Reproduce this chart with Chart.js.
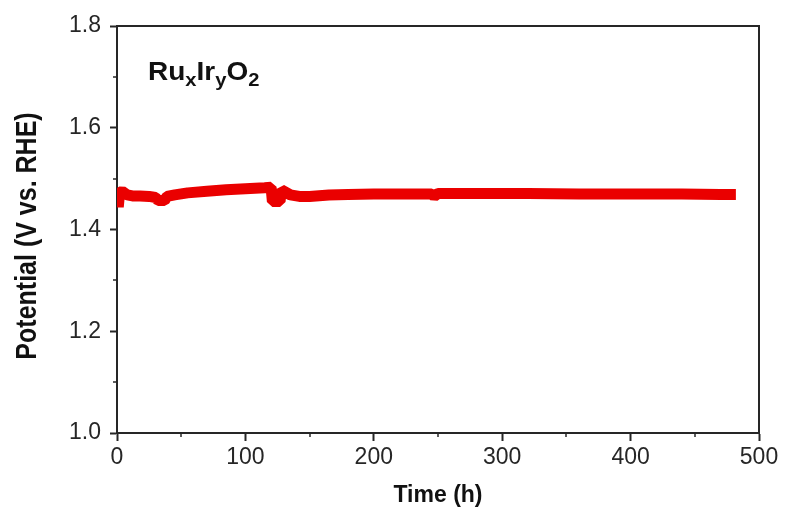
<!DOCTYPE html>
<html>
<head>
<meta charset="utf-8">
<title>RuxIryO2 stability</title>
<script src="https://cdn.jsdelivr.net/npm/chart.js@4.4.1/dist/chart.umd.min.js"></script>
<style>
  html, body { margin: 0; padding: 0; background: #fff; }
  #wrap { width: 787px; height: 523px; }
</style>
</head>
<body>
<div id="wrap"><canvas id="chart" width="787" height="523"></canvas></div>
<script>
// chronopotentiometry trace
var timeHours = [0, 1, 2, 4, 8, 12, 18, 25, 30, 32, 37, 39, 45, 55, 70, 85, 100, 115, 120, 121,
                 127, 128, 135, 142, 150, 165, 180, 200, 230, 245, 247, 250, 280, 320, 360,
                 400, 440, 470, 482];
var potential = [1.474, 1.444, 1.472, 1.475, 1.468, 1.466, 1.466, 1.465, 1.463, 1.457, 1.457, 1.465,
                 1.468, 1.472, 1.475, 1.478, 1.480, 1.482, 1.483, 1.455, 1.455, 1.478, 1.468,
                 1.465, 1.465, 1.468, 1.469, 1.470, 1.470, 1.470, 1.465, 1.471, 1.471, 1.471, 1.470,
                 1.470, 1.470, 1.469, 1.469];
var yMinorTicks = [1.1, 1.3, 1.5, 1.7];
var xMinorTicks = [50, 150, 250, 350, 450];

var FONT = '"Liberation Sans", Arial, sans-serif';
var INK = '#262626';

var points = timeHours.map(function(t, i) {
    return { x: t, y: potential[i] };
});

// frame, minor ticks and the mixed-style texts
var decorPlugin = {
    id: 'decor',
    afterDraw: function(chart) {
        var ctx = chart.ctx;
        var area = chart.chartArea;
        var xs = chart.scales.x;
        var ys = chart.scales.y;

        ctx.save();
        ctx.strokeStyle = INK;
        ctx.lineWidth = 2;
        ctx.beginPath();
        ctx.moveTo(area.left, area.top);
        ctx.lineTo(area.right, area.top);
        ctx.lineTo(area.right, area.bottom);
        ctx.stroke();

        ctx.lineWidth = 1.5;
        yMinorTicks.forEach(function(v) {
            var py = Math.round(ys.getPixelForValue(v));
            ctx.beginPath();
            ctx.moveTo(area.left - 4, py);
            ctx.lineTo(area.left, py);
            ctx.stroke();
        });
        xMinorTicks.forEach(function(v) {
            var px = Math.round(xs.getPixelForValue(v));
            ctx.beginPath();
            ctx.moveTo(px, area.bottom);
            ctx.lineTo(px, area.bottom + 4);
            ctx.stroke();
        });
        ctx.restore();

        // sample label with subscripts, slightly widened like the source
        ctx.save();
        ctx.fillStyle = '#111';
        ctx.textBaseline = 'alphabetic';
        ctx.textAlign = 'left';
        ctx.translate(148, 80);
        ctx.scale(1.12, 1);
        var parts = [['Ru', 0], ['x', 1], ['Ir', 0], ['y', 1], ['O', 0], ['2', 1]];
        var cx = 0;
        parts.forEach(function(p) {
            ctx.font = p[1] ? 'bold 18px ' + FONT : 'bold 25px ' + FONT;
            ctx.fillText(p[0], cx, p[1] ? 6 : 0);
            cx += ctx.measureText(p[0]).width;
        });
        ctx.restore();

        // y axis title
        ctx.save();
        ctx.fillStyle = '#111';
        ctx.font = 'bold 25px ' + FONT;
        ctx.textAlign = 'center';
        ctx.textBaseline = 'alphabetic';
        ctx.translate(36, 236);
        ctx.rotate(-Math.PI / 2);
        ctx.scale(1, 1.15);
        ctx.fillText('Potential (V vs. RHE)', 0, 0);
        ctx.restore();
    }
};

new Chart(document.getElementById('chart').getContext('2d'), {
    type: 'line',
    data: {
        datasets: [{
            data: points,
            borderColor: 'rgb(234, 0, 0)',
            borderWidth: 11,
            pointRadius: 0,
            tension: 0,
            borderCapStyle: 'butt',
            borderJoinStyle: 'bevel',
            fill: false
        }]
    },
    options: {
        responsive: false,
        animation: false,
        layout: { padding: { top: 26, right: 28, left: 0, bottom: 0 } },
        plugins: {
            legend: { display: false },
            tooltip: { enabled: false }
        },
        scales: {
            x: {
                type: 'linear',
                min: 0,
                max: 500,
                afterFit: function(s) { s.height = 90; },
                ticks: {
                    stepSize: 100,
                    color: INK,
                    padding: 3,
                    maxRotation: 0,
                    font: { family: FONT, size: 23 }
                },
                grid: {
                    drawOnChartArea: false,
                    drawTicks: true,
                    tickLength: 8,
                    tickWidth: 2,
                    tickColor: INK
                },
                border: { display: true, color: INK, width: 2 },
                title: {
                    display: true,
                    text: 'Time (h)',
                    color: '#111',
                    padding: { top: 4, bottom: 14 },
                    font: { family: FONT, size: 23, weight: 'bold' }
                }
            },
            y: {
                min: 1.0,
                max: 1.8,
                afterFit: function(s) { s.width = 117; },
                ticks: {
                    stepSize: 0.2,
                    color: INK,
                    padding: 9,
                    font: { family: FONT, size: 23 },
                    callback: function(v) { return v.toFixed(1); }
                },
                grid: {
                    drawOnChartArea: false,
                    drawTicks: true,
                    tickLength: 7,
                    tickWidth: 2,
                    tickColor: INK
                },
                border: { display: true, color: INK, width: 2 }
            }
        }
    },
    plugins: [decorPlugin]
});
</script>
</body>
</html>
